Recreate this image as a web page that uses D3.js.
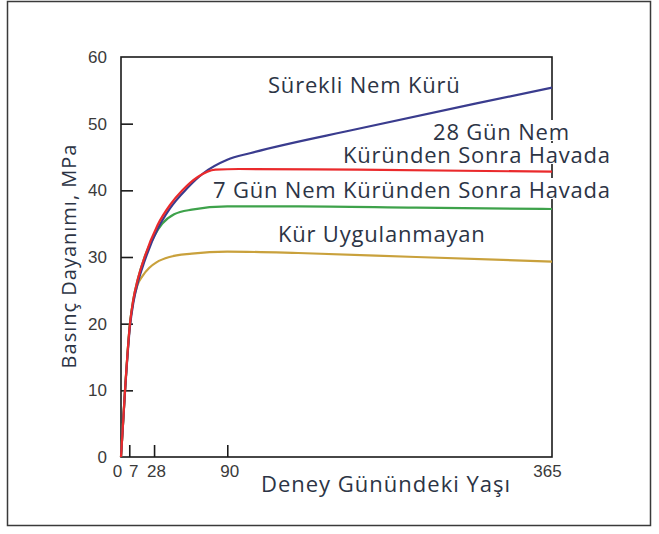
<!DOCTYPE html>
<html>
<head>
<meta charset="utf-8">
<script src="https://cdn.jsdelivr.net/npm/d3@7"></script>
<style>
  body { margin: 0; background: #fff; }
  svg { display: block; }
</style>
</head>
<body>
<svg width="659" height="534"></svg>
<script>
// Basınç dayanımı (MPa) vs deney günündeki yaş (gün)
const days = {
  surekli: [0, 3.4, 7.6, 10.4, 14, 20, 31, 41.5, 56, 70, 90, 110, 200, 300, 365],
  gun28:   [0, 3.4, 7.6, 10.4, 14, 20, 31, 41.5, 52, 65, 80, 100, 200, 365],
  gun7:    [0, 3.4, 7.6, 10.4, 14, 20, 28, 35, 45, 60, 90, 150, 250, 365],
  kursuz:  [0, 3.4, 7.6, 10.4, 14, 18, 24, 30, 41, 60, 90, 150, 250, 365]
};
const surekliVals = [0, 9.8, 19.6, 23.1, 26.0, 29.4, 34.2, 37.3, 40.3, 42.6, 44.6, 45.6, 49.2, 53.0, 55.4];
const gun28Vals   = [0, 10, 20, 23.6, 26.5, 30.0, 34.8, 37.8, 40.0, 42.0, 43.1, 43.2, 43.1, 42.8];
const gun7Vals    = [0, 10, 20, 23.6, 26.5, 30.0, 33.1, 35.0, 36.4, 37.1, 37.6, 37.6, 37.4, 37.2];
const kursuzVals  = [0, 10, 20, 23.4, 25.8, 27.1, 28.4, 29.2, 30.0, 30.5, 30.8, 30.6, 30.0, 29.3];

const yTicks = [0, 10, 20, 30, 40, 50, 60];
const xTicks = [0, 7, 28, 90, 365];

const series = [
  { key: "kursuz",  vals: kursuzVals,  color: "#c9a13c" },
  { key: "gun7",    vals: gun7Vals,    color: "#3ea24b" },
  { key: "surekli", vals: surekliVals, color: "#3a3c8e" },
  { key: "gun28",   vals: gun28Vals,   color: "#ea2a2c" }
];

// each label: its lines (start x, baseline)
const labels = [
  [{ text: "Sürekli Nem Kürü", x: 268, y: 93 }],
  [{ text: "28 Gün Nem", x: 433, y: 140 },
   { text: "Küründen Sonra Havada", x: 343, y: 163 }],
  [{ text: "7 Gün Nem Küründen Sonra Havada", x: 213, y: 198 }],
  [{ text: "Kür Uygulanmayan", x: 278, y: 242 }]
];

const svg = d3.select("svg");
const plot = { left: 121, right: 552, top: 57, bottom: 457 };
const textColor = "#2c3445";
const font = "'Open Sans', 'Noto Sans', sans-serif";

// outer frame
svg.append("rect")
  .attr("x", 7.5).attr("y", 1.5).attr("width", 643).attr("height", 524)
  .attr("fill", "none").attr("stroke", "#3a3a3a").attr("stroke-width", 1.5);

const x = d3.scaleLinear().domain([0, 365]).range([plot.left, plot.right]);
const y = d3.scaleLinear().domain([0, 60]).range([plot.bottom, plot.top]);

// plot box
svg.append("rect")
  .attr("x", plot.left).attr("y", plot.top)
  .attr("width", plot.right - plot.left).attr("height", plot.bottom - plot.top)
  .attr("fill", "none").attr("stroke", "#1a1a1a").attr("stroke-width", 1.6);

// y axis
const yAxis = svg.append("g")
  .attr("transform", `translate(${plot.left},0)`)
  .call(d3.axisLeft(y).tickValues(yTicks).tickSizeInner(-12).tickSizeOuter(0).tickPadding(14));
yAxis.select(".domain").remove();
yAxis.selectAll("line").attr("stroke", "#1a1a1a").attr("stroke-width", 1.6)
  .filter(d => d === 0 || d === 60).remove();
yAxis.selectAll("text")
  .attr("font-family", "'Liberation Sans', Arial, sans-serif")
  .attr("font-size", 17).attr("fill", "#3a3a3a");

// x axis
const xNudge = { 0: -4, 7: 4, 28: 2, 90: 2, 365: -5 };
const xAxis = svg.append("g")
  .attr("transform", `translate(0,${plot.bottom})`)
  .call(d3.axisBottom(x).tickValues(xTicks).tickSizeInner(-12).tickSizeOuter(0).tickPadding(6));
xAxis.select(".domain").remove();
xAxis.selectAll("line").attr("stroke", "#1a1a1a").attr("stroke-width", 1.6)
  .filter(d => d === 0 || d === 365).remove();
xAxis.selectAll("text")
  .attr("font-family", "'Liberation Sans', Arial, sans-serif")
  .attr("font-size", 17).attr("fill", "#3a3a3a")
  .attr("dx", d => xNudge[d]).attr("dy", "0.85em");

// curves
const line = d3.line()
  .x(d => x(d[0])).y(d => y(d[1]))
  .curve(d3.curveMonotoneX);

series.forEach(s => {
  const pts = days[s.key].map((d, i) => [d, s.vals[i]]);
  svg.append("path")
    .datum(pts)
    .attr("d", line)
    .attr("fill", "none")
    .attr("stroke", s.color)
    .attr("stroke-width", 2.2)
    .attr("stroke-linejoin", "round");
});

// curve labels, white behind them (they run over the right frame)
labels.forEach(lbl => {
  const g = svg.append("g");
  const t = g.append("text")
    .attr("font-family", font).attr("font-size", 22)
    .attr("letter-spacing", 0.8)
    .attr("fill", textColor);
  lbl.forEach(ln => {
    t.append("tspan").attr("x", ln.x).attr("y", ln.y).text(ln.text);
  });
  t.selectAll("tspan").each(function () {
    const bb = this.getBBox();
    g.insert("rect", "text")
      .attr("x", bb.x - 2).attr("y", bb.y + 4)
      .attr("width", bb.width + 4).attr("height", bb.height - 9)
      .attr("fill", "#fff");
  });
});

// axis titles
svg.append("text")
  .attr("transform", "translate(76,256) rotate(-90)")
  .attr("text-anchor", "middle")
  .attr("font-family", font).attr("font-size", 20)
  .attr("letter-spacing", 1)
  .attr("fill", textColor)
  .text("Basınç Dayanımı, MPa");

svg.append("text")
  .attr("x", 386).attr("y", 492)
  .attr("text-anchor", "middle")
  .attr("font-family", font).attr("font-size", 22)
  .attr("letter-spacing", 1)
  .attr("fill", textColor)
  .text("Deney Günündeki Yaşı");
</script>
</body>
</html>
